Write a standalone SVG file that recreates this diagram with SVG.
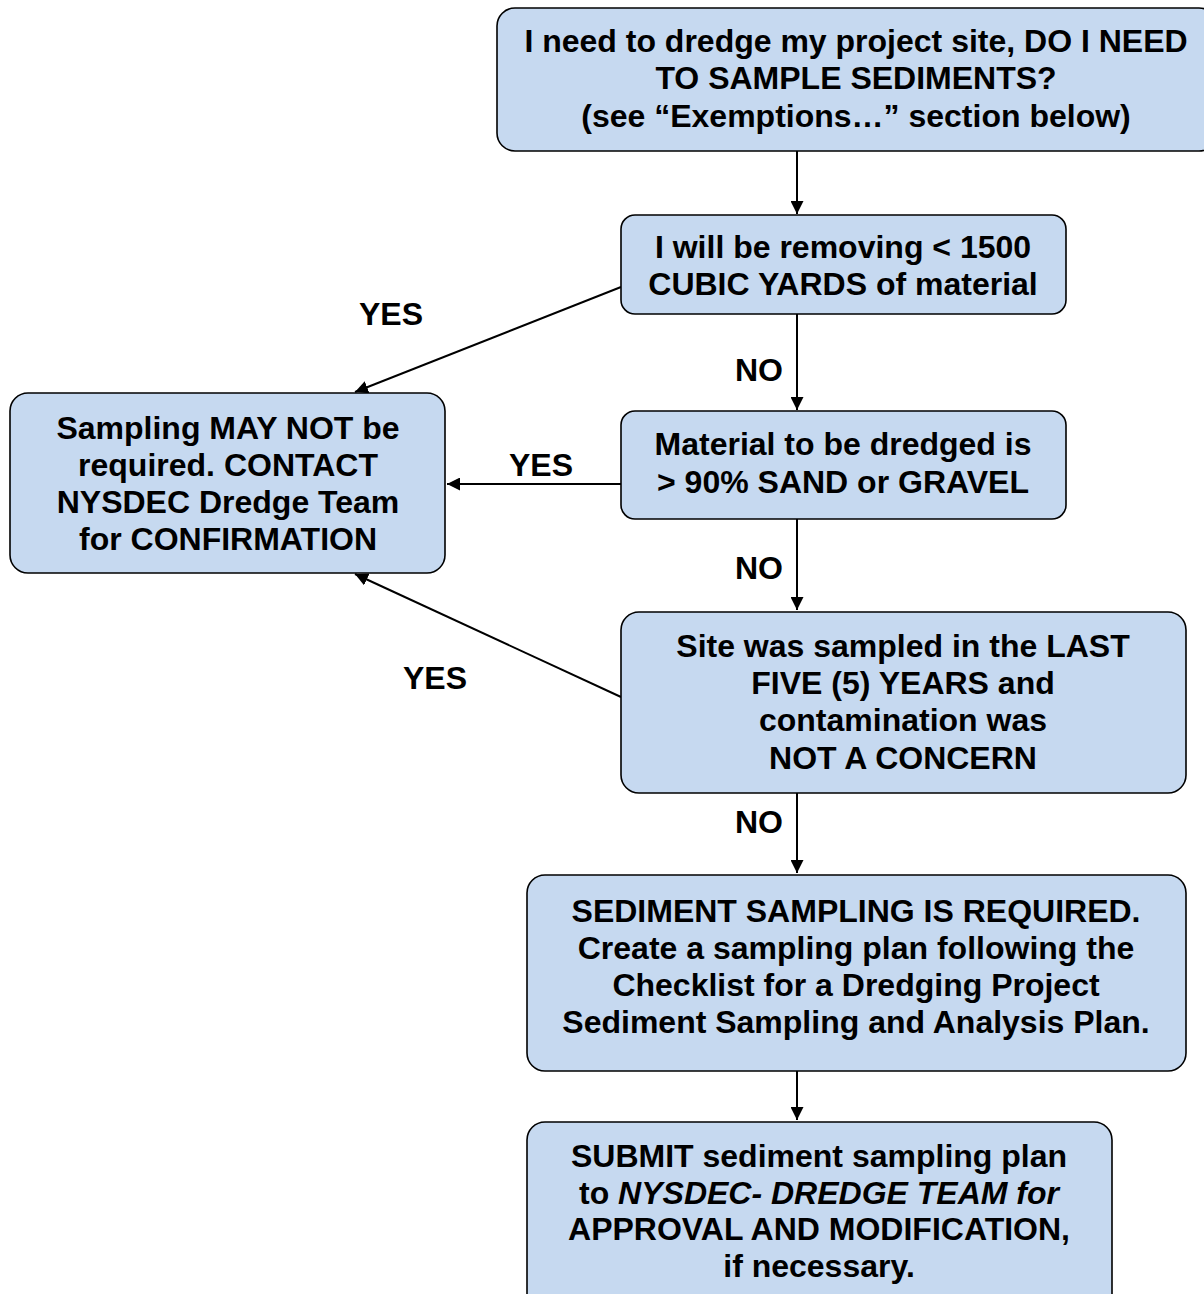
<svg xmlns="http://www.w3.org/2000/svg" width="1204" height="1294" viewBox="0 0 1204 1294">
<defs>
<marker id="ah" viewBox="0 0 10 10" refX="10" refY="5" markerWidth="13" markerHeight="13" markerUnits="userSpaceOnUse" orient="auto">
<path d="M0,0 L10,5 L0,10 z" fill="#000"/>
</marker>
<style>
.box{fill:#c6d9f0;stroke:#000;stroke-width:1.6}
.t{font-family:"Liberation Sans",Arial,sans-serif;font-weight:bold;font-size:32px;fill:#000;text-anchor:middle}
.c{stroke:#000;stroke-width:2;fill:none;marker-end:url(#ah)}
</style>
</defs>
<rect width="1204" height="1294" fill="#fff"/>
<g id="connectors">
<line class="c" x1="797" y1="151" x2="797" y2="214"/>
<line class="c" x1="797" y1="314" x2="797" y2="410"/>
<line class="c" x1="797" y1="519" x2="797" y2="610"/>
<line class="c" x1="797" y1="793" x2="797" y2="873"/>
<line class="c" x1="797" y1="1071" x2="797" y2="1120"/>
<line class="c" x1="621" y1="287" x2="355" y2="392"/>
<line class="c" x1="621" y1="484" x2="447" y2="484"/>
<line class="c" x1="621" y1="697" x2="355" y2="574"/>
<text class="t" x="391" y="325">YES</text>
<text class="t" x="759" y="381">NO</text>
<text class="t" x="541" y="476">YES</text>
<text class="t" x="759" y="579">NO</text>
<text class="t" x="435" y="689">YES</text>
<text class="t" x="759" y="833">NO</text>
</g>
<g id="n1">
<rect class="box" x="497" y="8" width="720" height="143" rx="18"/>
<text class="t" x="856" y="52">I need to dredge my project site, DO I NEED</text>
<text class="t" x="856" y="89">TO SAMPLE SEDIMENTS?</text>
<text class="t" x="856" y="127">(see “Exemptions…” section below)</text>
</g>
<g id="n2">
<rect class="box" x="621" y="215" width="445" height="99" rx="14"/>
<text class="t" x="843" y="258">I will be removing &lt; 1500</text>
<text class="t" x="843" y="295">CUBIC YARDS of material</text>
</g>
<g id="n3">
<rect class="box" x="621" y="411" width="445" height="108" rx="14"/>
<text class="t" x="843" y="455">Material to be dredged is</text>
<text class="t" x="843" y="493">&gt; 90% SAND or GRAVEL</text>
</g>
<g id="n4">
<rect class="box" x="10" y="393" width="435" height="180" rx="18"/>
<text class="t" x="228" y="439">Sampling MAY NOT be</text>
<text class="t" x="228" y="476">required. CONTACT</text>
<text class="t" x="228" y="513">NYSDEC Dredge Team</text>
<text class="t" x="228" y="550">for CONFIRMATION</text>
</g>
<g id="n5">
<rect class="box" x="621" y="612" width="565" height="181" rx="18"/>
<text class="t" x="903" y="657">Site was sampled in the LAST</text>
<text class="t" x="903" y="694">FIVE (5) YEARS and</text>
<text class="t" x="903" y="731">contamination was</text>
<text class="t" x="903" y="769">NOT A CONCERN</text>
</g>
<g id="n6">
<rect class="box" x="527" y="875" width="659" height="196" rx="18"/>
<text class="t" x="856" y="922">SEDIMENT SAMPLING IS REQUIRED.</text>
<text class="t" x="856" y="959">Create a sampling plan following the</text>
<text class="t" x="856" y="996">Checklist for a Dredging Project</text>
<text class="t" x="856" y="1033">Sediment Sampling and Analysis Plan.</text>
</g>
<g id="n7">
<rect class="box" x="527" y="1122" width="585" height="190" rx="18"/>
<text class="t" x="819" y="1167">SUBMIT sediment sampling plan</text>
<text class="t" x="819" y="1204">to <tspan font-style="italic">NYSDEC- DREDGE TEAM for</tspan></text>
<text class="t" x="819" y="1240">APPROVAL AND MODIFICATION,</text>
<text class="t" x="819" y="1277">if necessary.</text>
</g>
</svg>
